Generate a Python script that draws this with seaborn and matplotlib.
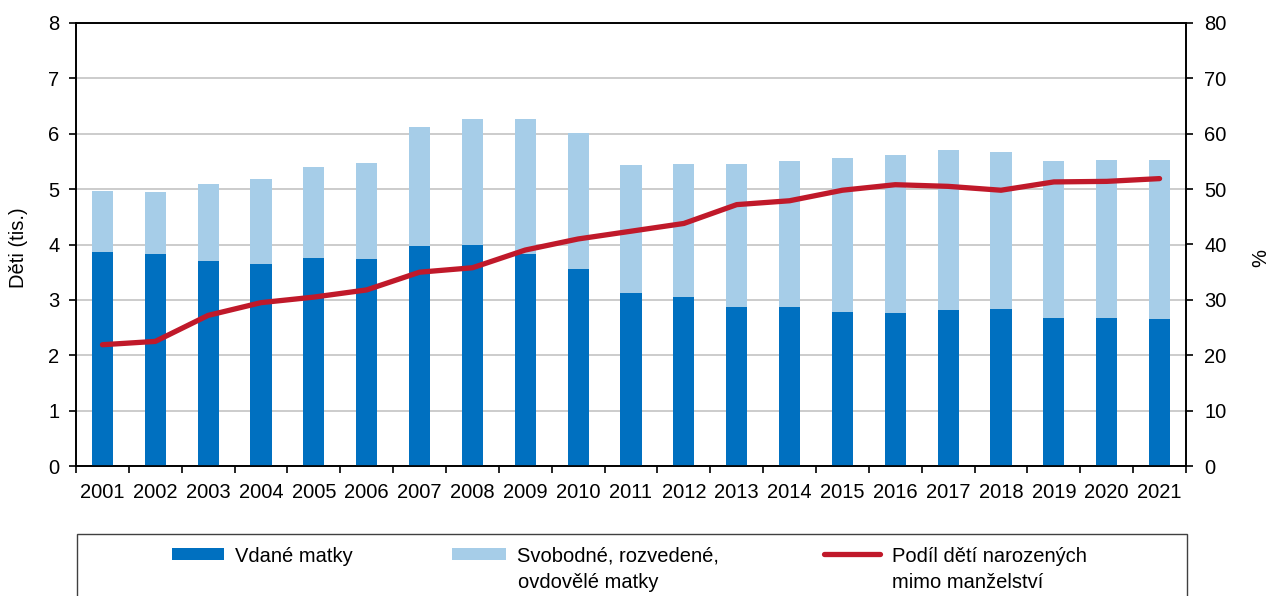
import numpy as np
import pandas as pd
import matplotlib
matplotlib.use("Agg")
import matplotlib.pyplot as plt
import seaborn as sns
from matplotlib.patches import Rectangle, Patch
from matplotlib.lines import Line2D

# ---------------- data ----------------
roky = [str(r) for r in range(2001, 2022)]
vdane = [3.87, 3.82, 3.70, 3.65, 3.76, 3.74, 3.97, 4.00, 3.83, 3.56, 3.12,
         3.06, 2.87, 2.87, 2.79, 2.76, 2.81, 2.84, 2.67, 2.67, 2.65]
svobodne = [1.09, 1.12, 1.39, 1.54, 1.64, 1.74, 2.15, 2.26, 2.43, 2.45, 2.31,
            2.40, 2.58, 2.64, 2.78, 2.85, 2.89, 2.83, 2.83, 2.85, 2.88]
podil = [21.9, 22.5, 27.2, 29.5, 30.5, 31.8, 35.0, 35.8, 39.0, 41.0, 42.4,
         43.8, 47.2, 47.9, 49.8, 50.8, 50.5, 49.8, 51.3, 51.4, 51.9]
left_ticks = [0, 1, 2, 3, 4, 5, 6, 7, 8]
right_ticks = [0, 10, 20, 30, 40, 50, 60, 70, 80]
lab_vdane = "Vdané matky"
lab_svob = ["Svobodné, rozvedené,", "ovdovělé matky"]
lab_podil = ["Podíl dětí narozených", "mimo manželství"]

DARK = "#0070C0"
LIGHT = "#A6CDE8"
RED = "#C0192A"
FS = 14.5

sns.set_theme(style="white")
plt.rcParams["font.family"] = ["Liberation Sans", "DejaVu Sans"]
plt.rcParams["text.color"] = "black"
plt.rcParams["axes.labelcolor"] = "black"
plt.rcParams["xtick.color"] = "black"
plt.rcParams["ytick.color"] = "black"
plt.rcParams["legend.labelcolor"] = "black"

W, H = 1272, 596
fig = plt.figure(figsize=(W / 100, H / 100), dpi=100)
fig.patch.set_facecolor("white")
ax = fig.add_axes([76 / W, (H - 466) / H, (1186 - 76) / W, (466 - 23) / H])

df = pd.DataFrame({
    "rok": roky,
    "pos": np.arange(len(roky)),
    "vdane": vdane,
    "celkem": np.add(vdane, svobodne),
    "podil": podil,
})

sns.barplot(data=df, x="rok", y="celkem", color=LIGHT, saturation=1,
            width=0.4, linewidth=0, ax=ax, zorder=2)
sns.barplot(data=df, x="rok", y="vdane", color=DARK, saturation=1,
            width=0.4, linewidth=0, ax=ax, zorder=3)

ax.set_ylim(0, 8)
ax.set_yticks(left_ticks)
ax.set_yticklabels([str(t) for t in left_ticks])
ax.yaxis.grid(True, color="#C8C8C8", linewidth=1.3, zorder=0)
ax.set_axisbelow(True)
ax.set_xlabel("")
ax.set_ylabel("Děti (tis.)", fontsize=FS, va="center", color="black")
ax.yaxis.set_label_coords((18.5 - 76) / 1110, 0.493)

for s in ax.spines.values():
    s.set_color("black")
    s.set_linewidth(1.2)
    s.set_visible(True)

ax2 = ax.twinx()
sns.lineplot(data=df, x="pos", y="podil", color=RED, linewidth=3.8,
             ax=ax2, solid_capstyle="round", zorder=5)
ax2.set_ylim(0, 80)
ax2.set_yticks(right_ticks)
ax2.set_yticklabels([str(t) for t in right_ticks])
ax2.set_ylabel("%", fontsize=FS, va="center", color="black")
ax2.yaxis.set_label_coords((1261 - 76) / 1110, 0.47)
ax2.set_xlabel("")
for s in ax2.spines.values():
    s.set_color("black")
    s.set_linewidth(1.2)

ax.set_xlim(-0.5, len(roky) - 0.5)
ax.set_xticks(np.arange(len(roky)))
ax.set_xticklabels(roky)
ax.set_xticks(np.arange(-0.5, len(roky), 1.0), minor=True)
ax.tick_params(axis="x", which="major", length=0, pad=12, labelsize=FS,
               colors="black")
ax.tick_params(axis="x", which="minor", length=5, width=1.2,
               direction="out", color="black", bottom=True)
ax.tick_params(axis="y", which="major", length=5, width=1.2, direction="out",
               pad=7, labelsize=FS, colors="black", left=True)
ax2.tick_params(axis="y", which="major", length=5, width=1.2, direction="out",
                pad=8, labelsize=FS, colors="black", right=True)
ax2.grid(False)

# ---------------- legend ----------------
box = Rectangle((77 / W, -0.1), (1187 - 77) / W, (H - 534) / H + 0.1,
                transform=fig.transFigure, facecolor="none",
                edgecolor="#404040", linewidth=1.0, clip_on=False)
fig.add_artist(box)

px = FS * 100 / 72
common = dict(frameon=False, borderpad=0, borderaxespad=0, fontsize=FS,
              loc="center left", handletextpad=11 / px, labelcolor="black")

h1 = Patch(facecolor=DARK, edgecolor="none")
fig.legend([h1], [lab_vdane], bbox_to_anchor=(172 / W, 1 - 556 / H),
           handlelength=52 / px, handleheight=11 / px, **common)
h2 = Patch(facecolor=LIGHT, edgecolor="none")
fig.legend([h2], [lab_svob[0]], bbox_to_anchor=(452 / W, 1 - 556 / H),
           handlelength=54 / px, handleheight=11 / px, **common)
h3 = Line2D([0], [0], color=RED, linewidth=3.8, solid_capstyle="round")
common3 = dict(common)
common3["handletextpad"] = 12 / px
fig.legend([h3], [lab_podil[0]], bbox_to_anchor=(824 / W, 1 - 556 / H),
           handlelength=56 / px, **common3)

fig.text(518 / W, 1 - 588 / H, lab_svob[1], fontsize=FS, va="baseline",
         ha="left", color="black")
fig.text(892 / W, 1 - 588 / H, lab_podil[1], fontsize=FS, va="baseline",
         ha="left", color="black")

fig.savefig("out.png", dpi=100, facecolor="white")
